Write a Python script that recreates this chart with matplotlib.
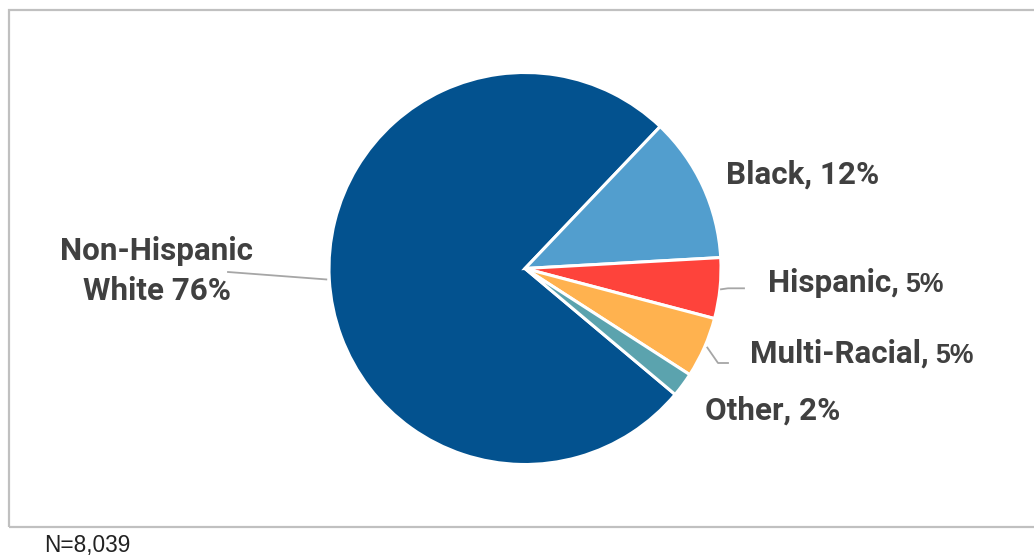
import matplotlib.pyplot as plt
from matplotlib.patches import Rectangle
import numpy as np

plt.rcParams['font.family'] = ['Roboto', 'DejaVu Sans']

# share of respondents by race / ethnicity
groups = ["Non-Hispanic White", "Black", "Hispanic", "Multi-Racial", "Other"]
shares = [76, 12, 5, 5, 2]
colors = ["#03528f", "#529ece", "#fe433b", "#ffb24f", "#5ba3ae"]
sample_note = "N=8,039"

W, H = 1034, 557
TXT = "#404040"
LEAD = "#a6a6a6"

fig = plt.figure(figsize=(W / 100, H / 100), dpi=100)
ax = fig.add_axes([0, 0, 1, 1])

# pie laid out in pixel units (y measured from the bottom)
cx, cy, r = 525, H - 268.5, 196
wedges, _ = ax.pie(shares, colors=colors, startangle=-40, counterclock=False,
                   center=(cx, cy), radius=r,
                   wedgeprops=dict(edgecolor="white", linewidth=2.2))
ax.set_xlim(0, W)
ax.set_ylim(0, H)
ax.set_aspect("auto")
ax.axis("off")


def edge_point(w):
    mid = np.deg2rad((w.theta1 + w.theta2) / 2)
    return cx + r * np.cos(mid), cy + r * np.sin(mid)


big = 22.6
small = 19.2

# Non-Hispanic White, two lines on the left with a leader
ex, ey = edge_point(wedges[0])
ax.plot([ex - 3, 228], [ey, H - 272], color=LEAD, lw=1.3)
ax.text(157, H - 271, "Non-Hispanic\nWhite %d%%" % shares[0], ha="center", va="center",
        fontsize=big, fontweight="bold", color=TXT, linespacing=1.45)

# Black
ax.text(726, H - 184, "%s, %d%%" % (groups[1], shares[1]), ha="left", va="baseline",
        fontsize=big, fontweight="bold", color=TXT)

# Hispanic
ex, ey = edge_point(wedges[2])
ax.plot([ex + 1, ex + 8, 744], [ey - 1, ey, ey], color=LEAD, lw=1.3)
t = ax.text(768, H - 292, "%s," % groups[2], ha="left", va="baseline",
            fontsize=big, fontweight="bold", color=TXT)
ax.annotate("%d%%" % shares[2], xy=(1, H - 292), xycoords=(t, "data"),
            xytext=(4.5, 0), textcoords="offset points", ha="left", va="baseline",
            fontsize=small, fontweight="bold", color=TXT, family="Liberation Sans")

# Multi-Racial
ex, ey = edge_point(wedges[3])
ax.plot([ex + 3, 718, 728], [ey, H - 363, H - 363], color=LEAD, lw=1.3)
t = ax.text(750, H - 363, "%s," % groups[3], ha="left", va="baseline",
            fontsize=big, fontweight="bold", color=TXT)
ax.annotate("%d%%" % shares[3], xy=(1, H - 363), xycoords=(t, "data"),
            xytext=(4.5, 0), textcoords="offset points", ha="left", va="baseline",
            fontsize=small, fontweight="bold", color=TXT, family="Liberation Sans")

# Other
ax.text(705, H - 420, "%s, %d%%" % (groups[4], shares[4]), ha="left", va="baseline",
        fontsize=big, fontweight="bold", color=TXT)

# chart border, open past the right edge
ax.add_patch(Rectangle((9, H - 527), W + 20, 517, fill=False,
                       edgecolor="#c0c0c0", lw=1.6, clip_on=False))

ax.text(44, H - 552, sample_note, ha="left", va="baseline", fontsize=16.3,
        family="Liberation Sans", color="#222222")

fig.savefig("out.png", dpi=100)
